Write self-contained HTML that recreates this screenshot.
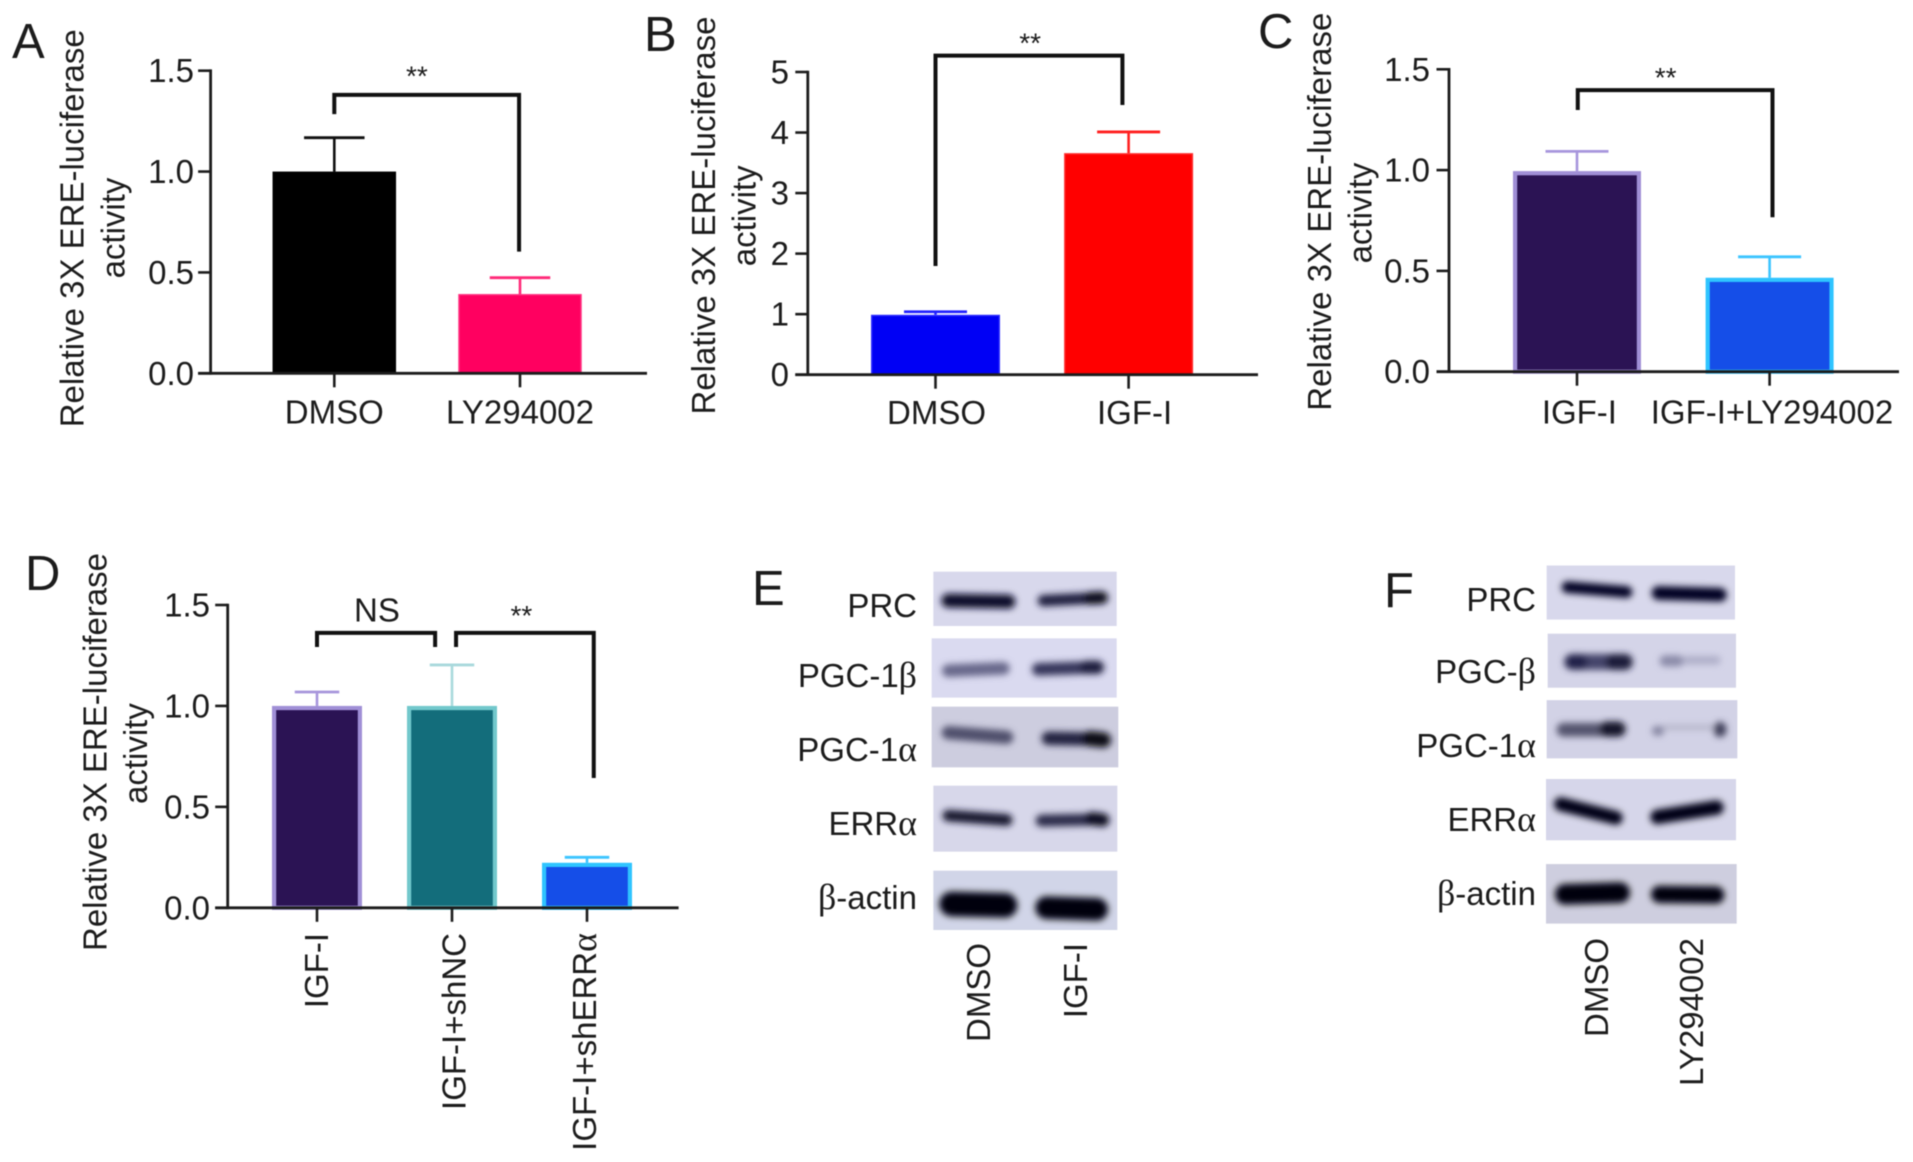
<!DOCTYPE html>
<html lang="en">
<head>
<meta charset="utf-8">
<title>Relative 3X ERE-luciferase activity and western blots</title>
<style>
html,body{margin:0;padding:0;background:#fff;width:1913px;height:1162px;overflow:hidden}
svg{display:block;filter:blur(0.45px)}
text{font-family:"Liberation Sans",Arial,sans-serif;fill:#1c1c1c;font-size:33px}
.greek{font-family:"Liberation Serif",serif;font-size:36px}
.letter{font-size:49px}
.band{fill:none;stroke-linecap:round}
</style>
</head>
<body>
<svg id="fig" xmlns="http://www.w3.org/2000/svg" width="1913" height="1162" viewBox="0 0 1913 1162">
  <defs>
    <filter id="bandBlur" filterUnits="userSpaceOnUse" x="0" y="0" width="1400" height="1300"><feGaussianBlur stdDeviation="10"/></filter>
  </defs>

  <text class="letter" x="12" y="58">A</text>
  <text class="letter" x="644" y="51">B</text>
  <text class="letter" x="1258" y="48">C</text>
  <text class="letter" x="25" y="590">D</text>
  <text class="letter" x="752" y="605">E</text>
  <text class="letter" x="1384" y="607">F</text>

  <g id="panels"></g>

  <!-- Panel E blots -->
  <g transform="translate(740,550) scale(0.33333)">
    <g>
      <rect x="580" y="65" width="550" height="163" fill="#d8d8ec"/>
      <g filter="url(#bandBlur)">
        <path class="band" d="M625 152 L805 155" stroke="#0c0c2c" stroke-width="42"/>
        <path class="band" d="M910 152 L1085 143" stroke="#1e1e3c" stroke-width="34"/>
        <path class="band" d="M1050 145 L1085 143" stroke="#08081e" stroke-width="38"/>
      </g>
    </g>
    <g>
      <rect x="575" y="265" width="555" height="178" fill="#dadaf0"/>
      <g filter="url(#bandBlur)">
        <path class="band" d="M625 362 L790 355" stroke="#67678a" stroke-width="38"/>
        <path class="band" d="M895 358 L1070 352" stroke="#34345a" stroke-width="38"/>
        <path class="band" d="M1040 352 L1072 352" stroke="#1c1c3c" stroke-width="40"/>
      </g>
    </g>
    <g>
      <rect x="575" y="470" width="560" height="182" fill="#cdcddf"/>
      <g filter="url(#bandBlur)">
        <path class="band" d="M625 548 L800 562" stroke="#50506c" stroke-width="40"/>
        <path class="band" d="M925 565 L1090 568" stroke="#222240" stroke-width="40"/>
        <path class="band" d="M1050 566 L1090 570" stroke="#080818" stroke-width="46"/>
      </g>
    </g>
    <g>
      <rect x="580" y="707" width="552" height="198" fill="#d7d7ea"/>
      <g filter="url(#bandBlur)">
        <path class="band" d="M625 797 L800 810" stroke="#14142e" stroke-width="35"/>
        <path class="band" d="M905 812 L1085 808" stroke="#2c2c48" stroke-width="36"/>
        <path class="band" d="M1055 806 L1088 810" stroke="#0a0a20" stroke-width="40"/>
      </g>
    </g>
    <g>
      <rect x="580" y="962" width="552" height="178" fill="#d1d5e8"/>
      <g filter="url(#bandBlur)">
        <path class="band" d="M635 1062 L795 1066" stroke="#000010" stroke-width="74"/>
        <path class="band" d="M920 1073 L1070 1078" stroke="#000010" stroke-width="68"/>
      </g>
    </g>
  </g>
  <g text-anchor="end">
    <text x="917" y="617">PRC</text>
    <text x="917" y="687">PGC-1<tspan class="greek">β</tspan></text>
    <text x="917" y="761">PGC-1<tspan class="greek">α</tspan></text>
    <text x="917" y="835">ERR<tspan class="greek">α</tspan></text>
    <text x="917" y="909"><tspan class="greek">β</tspan>-actin</text>
  </g>
  <text text-anchor="end" transform="translate(990,943) rotate(-90)">DMSO</text>
  <text text-anchor="end" transform="translate(1087,943) rotate(-90)">IGF-I</text>

  <!-- Panel F blots -->
  <g transform="translate(1370,550) scale(0.33333,0.34435)">
    <g>
      <rect x="530" y="45" width="565" height="157" fill="#d8d8ec"/>
      <g filter="url(#bandBlur)">
        <path class="band" d="M592 108 L770 122" stroke="#050520" stroke-width="34"/>
        <path class="band" d="M865 125 L1050 130" stroke="#050520" stroke-width="40"/>
      </g>
    </g>
    <g>
      <rect x="533" y="243" width="565" height="157" fill="#d4d4e8"/>
      <g filter="url(#bandBlur)">
        <path class="band" d="M605 325 L765 325" stroke="#44446a" stroke-width="46"/>
        <path class="band" d="M610 325 L630 325" stroke="#22224a" stroke-width="44"/>
        <path class="band" d="M730 325 L765 325" stroke="#1a1a3a" stroke-width="46"/>
        <path class="band" d="M885 322 L925 322" stroke="#8a8aa8" stroke-width="32"/>
        <path class="band" d="M950 320 L1040 320" stroke="#aeaec8" stroke-width="24"/>
      </g>
    </g>
    <g>
      <rect x="530" y="436" width="572" height="169" fill="#d2d2e6"/>
      <g filter="url(#bandBlur)">
        <path class="band" d="M580 522 L745 522" stroke="#55556e" stroke-width="40"/>
        <path class="band" d="M710 520 L745 520" stroke="#14142c" stroke-width="44"/>
        <path class="band" d="M860 525 L868 525" stroke="#8484a0" stroke-width="28"/>
        <path class="band" d="M885 515 L1035 515" stroke="#b4b4c8" stroke-width="14"/>
        <path class="band" d="M1050 518 L1050 524" stroke="#40405a" stroke-width="38"/>
      </g>
    </g>
    <g>
      <rect x="528" y="665" width="570" height="178" fill="#d6d6ea"/>
      <g filter="url(#bandBlur)">
        <path class="band" d="M572 738 L738 778" stroke="#000018" stroke-width="40"/>
        <path class="band" d="M862 775 L1040 748" stroke="#000018" stroke-width="42"/>
      </g>
    </g>
    <g>
      <rect x="528" y="912" width="572" height="173" fill="#cecedf"/>
      <g filter="url(#bandBlur)">
        <path class="band" d="M585 1000 L750 995" stroke="#000010" stroke-width="60"/>
        <path class="band" d="M868 1000 L1038 1002" stroke="#000010" stroke-width="50"/>
      </g>
    </g>
  </g>
  <g text-anchor="end">
    <text x="1536" y="611">PRC</text>
    <text x="1536" y="683">PGC-<tspan class="greek">β</tspan></text>
    <text x="1536" y="757">PGC-1<tspan class="greek">α</tspan></text>
    <text x="1536" y="831">ERR<tspan class="greek">α</tspan></text>
    <text x="1536" y="905"><tspan class="greek">β</tspan>-actin</text>
  </g>
  <text text-anchor="end" transform="translate(1608,938) rotate(-90)">DMSO</text>
  <text text-anchor="end" transform="translate(1703,938) rotate(-90)">LY294002</text>
</svg>

<script>
// ---- Chart data ----
const panelACategories = ['DMSO', 'LY294002'];
const panelAValues = [1.0, 0.393];
const panelAErrors = [0.168, 0.081];
const panelATicks = [0, 0.5, 1, 1.5];
const panelATickLabels = ['0.0', '0.5', '1.0', '1.5'];
const panelABrackets = [[0, 0.995, 1.38, 1.285, 0.603]];
const panelASignificance = [[0.445, 1.494, '**']];

const panelBCategories = ['DMSO', 'IGF-I'];
const panelBValues = [0.99, 3.66];
const panelBErrors = [0.05, 0.35];
const panelBTicks = [0, 1, 2, 3, 4, 5];
const panelBTickLabels = ['0', '1', '2', '3', '4', '5'];
const panelBBrackets = [[0, 0.968, 5.27, 1.795, 4.455]];
const panelBSignificance = [[0.49, 5.545, '**']];

const panelCCategories = ['IGF-I', 'IGF-I+LY294002'];
const panelCValues = [0.995, 0.466];
const panelCErrors = [0.098, 0.104];
const panelCTicks = [0, 0.5, 1, 1.5];
const panelCTickLabels = ['0.0', '0.5', '1.0', '1.5'];
const panelCBrackets = [[0.004, 1.015, 1.397, 1.298, 0.766]];
const panelCSignificance = [[0.46, 1.48, '**']];

const panelDCategories = ['IGF-I', 'IGF-I+shNC', 'IGF-I+shERRα'];
const panelDValues = [1.0, 1.0, 0.223];
const panelDErrors = [0.069, 0.203, 0.027];
const panelDTicks = [0, 0.5, 1, 1.5];
const panelDTickLabels = ['0.0', '0.5', '1.0', '1.5'];
const panelDBrackets = [[0, 0.875, 1.362, 1.292, 1.292], [1.03, 2.05, 1.362, 1.292, 0.643]];
const panelDSignificance = [[0.444, 1.475, 'NS'], [1.514, 1.468, '**']];

const NS = 'http://www.w3.org/2000/svg';
const root = document.getElementById('panels');

function el(tag, attrs, parent) {
  const node = document.createElementNS(NS, tag);
  for (const k in attrs) node.setAttribute(k, attrs[k]);
  parent.appendChild(node);
  return node;
}

function setLabelText(node, str) {
  const i = str.indexOf('α');
  if (i < 0) { node.textContent = str; return; }
  node.appendChild(document.createTextNode(str.slice(0, i)));
  const ts = el('tspan', {class: 'greek'}, node);
  ts.textContent = 'α';
}

function drawPanel(p) {
  const g = el('g', {}, root);
  
  

  const yScale = v => p.y0 - (v / p.max) * (p.y0 - p.yTop);
  const xScale = i => p.x1 + i * p.step;

  // bars and error bars
  p.values.forEach((v, i) => {
    const cx = xScale(i);
    const top = yScale(v);
    const errTop = yScale(v + p.errors[i]);
    const errColor = p.errColors[i];

    const stem = el('line', {x1: cx, x2: cx, y1: errTop, y2: top, stroke: errColor, 'stroke-width': 2.6}, g);
    
    

    const cap = el('line', {x1: cx - p.capW / 2, x2: cx + p.capW / 2, y1: errTop, y2: errTop, stroke: errColor, 'stroke-width': 2.8}, g);
    
    

    const b = p.borderW;
    const bar = el('rect', {x: cx - p.barW / 2 + b / 2, y: top + b / 2, width: p.barW - b, height: Math.max(0, p.y0 - top - b / 2), fill: p.fills[i], stroke: p.borders[i], 'stroke-width': b}, g);
    
    
  });

  // axes
  const yAxis = el('line', {x1: p.axisX, x2: p.axisX, y1: yScale(p.max) - 1.3, y2: p.y0 + 1.3, stroke: '#1c1c1c', 'stroke-width': 2.8}, g);
  
  

  const xAxis = el('line', {x1: p.axisX - 12.5, x2: p.axisEnd, y1: p.y0, y2: p.y0, stroke: '#1c1c1c', 'stroke-width': 2.8}, g);
  
  

  p.ticks.forEach((t, i) => {
    const y = yScale(t);
    const tick = el('line', {x1: p.axisX - 12.5, x2: p.axisX, y1: y, y2: y, stroke: '#1c1c1c', 'stroke-width': 2.6}, g);
    
    

    const lab = el('text', {x: p.tickRight, y: y + 11.5, 'text-anchor': 'end'}, g);
    lab.textContent = p.tickLabels[i];
    
    
  });

  p.categories.forEach((c, i) => {
    const cx = xScale(i);
    const tick = el('line', {x1: cx, x2: cx, y1: p.y0, y2: p.y0 + 14, stroke: '#1c1c1c', 'stroke-width': 2.6}, g);
    
    

    let lab;
    if (p.rotated) {
      lab = el('text', {'text-anchor': 'end', transform: 'translate(' + (p.rotBase[i]) + ',' + p.labelY + ') rotate(-90)'}, g);
    } else {
      lab = el('text', {'text-anchor': 'middle', x: cx + p.labelDx[i], y: p.labelY}, g);
    }
    setLabelText(lab, c);
    
    
  });

  // significance brackets
  p.brackets.forEach((b, i) => {
    const xL = xScale(b[0]), xR = xScale(b[1]);
    const d = 'M' + xL + ' ' + yScale(b[3]) + ' V' + yScale(b[2]) + ' H' + xR + ' V' + yScale(b[4]);
    const path = el('path', {d: d, fill: 'none', stroke: '#111', 'stroke-width': 4, 'stroke-linejoin': 'miter'}, g);
    
    
  });

  p.significance.forEach((s, i) => {
    const stars = s[2] === '**';
    const t = el('text', {x: xScale(s[0]), y: yScale(s[1]) + (stars ? 13.5 : 11.5), 'text-anchor': 'middle', style: stars ? 'font-size:28px' : 'font-size:33px'}, g);
    t.textContent = s[2];
    
    
  });

  // y-axis title (two lines)
  const t1 = el('text', {'text-anchor': 'middle', transform: 'translate(' + p.titleX[0] + ',' + p.titleY[0] + ') rotate(-90)'}, g);
  t1.textContent = 'Relative 3X ERE-luciferase';
  
  

  const t2 = el('text', {'text-anchor': 'middle', transform: 'translate(' + p.titleX[1] + ',' + p.titleY[1] + ') rotate(-90)'}, g);
  t2.textContent = 'activity';
  
  
}

drawPanel({
  id: 'a', categories: panelACategories, values: panelAValues, errors: panelAErrors,
  ticks: panelATicks, tickLabels: panelATickLabels, brackets: panelABrackets, significance: panelASignificance,
  max: 1.5, y0: 373.3, yTop: 70.7, axisX: 210.6, axisEnd: 647, x1: 334.3, step: 185.7,
  barW: 123.5, capW: 60.5, borderW: 1.5, fills: ['#000000', '#ff0060'], borders: ['#000000', '#ff3080'],
  errColors: ['#111111', '#ff2a78'], tickRight: 194, labelY: 423.3, labelDx: [0, 0],
  titleX: [83.5, 124.5], titleY: [228.3, 228]
});
drawPanel({
  id: 'b', categories: panelBCategories, values: panelBValues, errors: panelBErrors,
  ticks: panelBTicks, tickLabels: panelBTickLabels, brackets: panelBBrackets, significance: panelBSignificance,
  max: 5, y0: 374.7, yTop: 72, axisX: 807.8, axisEnd: 1258, x1: 935.5, step: 193.1,
  barW: 129, capW: 63, borderW: 1.5, fills: ['#0000f5', '#ff0000'], borders: ['#2a2aff', '#ff2a2a'],
  errColors: ['#2222ff', '#ff2020'], tickRight: 789, labelY: 424, labelDx: [1, 6],
  titleX: [715, 755.5], titleY: [215.5, 215.8]
});
drawPanel({
  id: 'c', categories: panelCCategories, values: panelCValues, errors: panelCErrors,
  ticks: panelCTicks, tickLabels: panelCTickLabels, brackets: panelCBrackets, significance: panelCSignificance,
  max: 1.5, y0: 371.7, yTop: 69.3, axisX: 1449, axisEnd: 1899, x1: 1577, step: 192.6,
  barW: 128, capW: 63, borderW: 4.2, fills: ['#2b1354', '#154ee8'], borders: ['#a08fd6', '#2fc4ff'],
  errColors: ['#a795dc', '#3cc4ff'], tickRight: 1430, labelY: 423.3, labelDx: [2.4, 2.4],
  titleX: [1331, 1371.6], titleY: [211.7, 213]
});
drawPanel({
  id: 'd', categories: panelDCategories, values: panelDValues, errors: panelDErrors,
  ticks: panelDTicks, tickLabels: panelDTickLabels, brackets: panelDBrackets, significance: panelDSignificance,
  max: 1.5, y0: 907.8, yTop: 605, axisX: 227.7, axisEnd: 678.6, x1: 317, step: 135,
  barW: 90, capW: 44.5, borderW: 4.2, fills: ['#2b1354', '#136d7b', '#154ee8'], borders: ['#a08fd6', '#72c8cc', '#2fc4ff'],
  errColors: ['#a795dc', '#a9d9dc', '#3cc4ff'], tickRight: 210,
  rotated: true, rotBase: [328, 465.6, 596], labelY: 933,
  titleX: [106.5, 147], titleY: [752, 753.6]
});
</script>
</body>
</html>
